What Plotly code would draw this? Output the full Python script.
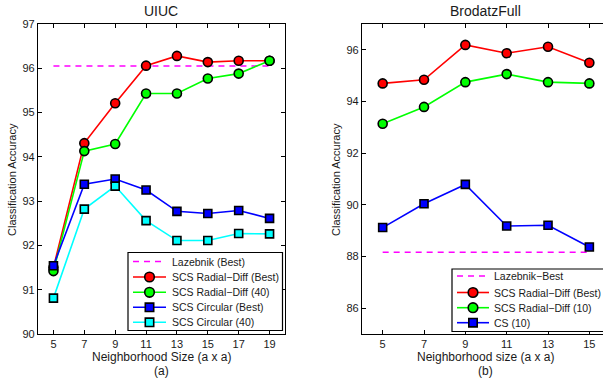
import plotly.graph_objects as go

# ---- Data ----
uiuc_x = [5, 7, 9, 11, 13, 15, 17, 19]
uiuc_lazebnik = 96.05
uiuc_radial_best = [91.50, 94.31, 95.21, 96.06, 96.28, 96.14, 96.17, 96.17]
uiuc_radial_40 = [91.42, 94.13, 94.29, 95.43, 95.43, 95.77, 95.88, 96.17]
uiuc_circ_best = [91.54, 93.38, 93.50, 93.25, 92.77, 92.72, 92.79, 92.61]
uiuc_circ_40 = [90.81, 92.82, 93.34, 92.56, 92.11, 92.11, 92.27, 92.26]

brod_x = [5, 7, 9, 11, 13, 15]
brod_lazebnik = 88.16
brod_radial_best = [94.70, 94.84, 96.19, 95.87, 96.12, 95.50]
brod_radial_10 = [93.14, 93.79, 94.75, 95.06, 94.75, 94.70]
brod_cs_10 = [89.12, 90.04, 90.79, 89.18, 89.21, 88.37]

uiuc_yticks = [90, 91, 92, 93, 94, 95, 96, 97]
brod_yticks = [86, 88, 90, 92, 94, 96]

uiuc_names = ["Lazebnik (Best)", "SCS Radial−Diff (Best)", "SCS Radial−Diff (40)",
              "SCS Circular (Best)", "SCS Circular (40)"]
brod_names = ["Lazebnik−Best", "SCS Radial−Diff (Best)", "SCS Radial−Diff (10)", "CS (10)"]

# ---- Styles ----
W, H = 603, 381
MT, MB = 24, 47
PH = H - MT - MB
FONT = "Liberation Sans, Arial, Helvetica, sans-serif"
TXT = "#1a1a1a"
MAG, RED, GRN, BLU, CYN = "#ff00ff", "#ff0000", "#00ff00", "#0000ff", "#00ffff"

uiuc_styles = [("dash", MAG, None), ("solid", RED, "circle"), ("solid", GRN, "circle"),
               ("solid", BLU, "square"), ("solid", CYN, "square")]
brod_styles = [("dash", MAG, None), ("solid", RED, "circle"), ("solid", GRN, "circle"),
               ("solid", BLU, "square")]

fig = go.Figure()


def marker(sym, color):
    if sym == "circle":
        return dict(symbol="circle", size=9, color=color, line=dict(color="black", width=1.6))
    return dict(symbol="square", size=8, color=color, line=dict(color="black", width=1.6))


def add(x, y, style, name, xa, ya):
    dash, color, sym = style
    if sym is None:
        fig.add_trace(go.Scatter(x=x, y=y, mode="lines", name=name, showlegend=False,
                                 line=dict(color=color, width=1.5, dash="6px,5px"),
                                 xaxis=xa, yaxis=ya))
    else:
        fig.add_trace(go.Scatter(x=x, y=y, mode="lines+markers", name=name, showlegend=False,
                                 line=dict(color=color, width=1.6), marker=marker(sym, color),
                                 xaxis=xa, yaxis=ya))


uiuc_series = [[uiuc_lazebnik] * len(uiuc_x), uiuc_radial_best, uiuc_radial_40,
               uiuc_circ_best, uiuc_circ_40]
for ys, st, nm in zip(uiuc_series, uiuc_styles, uiuc_names):
    add(uiuc_x, ys, st, nm, "x", "y")

brod_series = [[brod_lazebnik] * len(brod_x), brod_radial_best, brod_radial_10, brod_cs_10]
for ys, st, nm in zip(brod_series, brod_styles, brod_names):
    add(brod_x, ys, st, nm, "x2", "y2")

axis_common = dict(showline=True, linecolor="black", linewidth=1.2, mirror="ticks",
                   ticks="inside", ticklen=4, tickcolor="black", tickwidth=1,
                   showgrid=False, zeroline=False,
                   tickfont=dict(family=FONT, size=11, color=TXT))

L0, L1 = 38 / W, 285 / W
R0, R1 = 362 / W, 1.0

fig.update_layout(
    width=W, height=H,
    margin=dict(l=0, r=0, t=MT, b=MB),
    paper_bgcolor="white", plot_bgcolor="white",
    font=dict(family=FONT, size=11, color=TXT),
    showlegend=False,
    xaxis=dict(domain=[L0, L1], range=[4, 20], tickvals=uiuc_x, anchor="y", **axis_common),
    yaxis=dict(domain=[0, 1], range=[90, 97], tickvals=uiuc_yticks, anchor="x", **axis_common),
    xaxis2=dict(domain=[R0, R1], range=[4, 15.66], tickvals=brod_x, anchor="y2", **axis_common),
    yaxis2=dict(domain=[0, 1], range=[85, 97], tickvals=brod_yticks, anchor="x2",
                **{**axis_common, "mirror": False}),
)

# ---- helpers in pixel space -> paper ----
def px(x):
    return x / W


def py(y):
    return (H - MB - y) / PH


annotations = []
shapes = []


def A(text, xp, ypix, size, angle=0, xanchor="center"):
    annotations.append(dict(text=text, x=px(xp), y=py(ypix), xref="paper", yref="paper",
                            showarrow=False, textangle=angle,
                            font=dict(family=FONT, size=size, color=TXT),
                            xanchor=xanchor, yanchor="middle"))


A("UIUC", 161, 11, 14)
A("BrodatzFull", 485, 11, 14)
A("Neighborhood Size (a x a)", 161, 357, 12)
A("(a)", 161, 371, 12)
A("Neighborhood size (a x a)", 485, 357, 12)
A("(b)", 485, 371, 12)
A("Classification Accuracy", 12, 180, 11, -90)
A("Classification Accuracy", 336, 180, 11, -90)


def legend_box(x0, y0, x1, y1, rows, names, styles, lx0, lx1, tx):
    shapes.append(dict(type="rect", xref="paper", yref="paper", x0=px(x0), x1=px(x1),
                       y0=py(y1), y1=py(y0), line=dict(color="black", width=1.2),
                       fillcolor="white", layer="above"))
    for ry, nm, (dash, color, sym) in zip(rows, names, styles):
        shapes.append(dict(type="line", xref="paper", yref="paper", x0=px(lx0), x1=px(lx1),
                           y0=py(ry), y1=py(ry), layer="above",
                           line=dict(color=color, width=1.6 if sym else 1.5,
                                     dash="6px,5px" if sym is None else "solid")))
        cx = (lx0 + lx1) / 2
        if sym == "circle":
            r = 4.8
            shapes.append(dict(type="circle", xref="paper", yref="paper", layer="above",
                               x0=px(cx - r), x1=px(cx + r), y0=py(ry + r), y1=py(ry - r),
                               fillcolor=color, line=dict(color="black", width=1.6)))
        elif sym == "square":
            r = 4.2
            shapes.append(dict(type="rect", xref="paper", yref="paper", layer="above",
                               x0=px(cx - r), x1=px(cx + r), y0=py(ry + r), y1=py(ry - r),
                               fillcolor=color, line=dict(color="black", width=1.6)))
        A(nm, tx, ry, 10.5, xanchor="left")


legend_box(128, 252.5, 282.5, 330.5, [261.5, 277, 292.3, 307.3, 322.3],
           uiuc_names, uiuc_styles, 133, 166, 170)
legend_box(452, 269, 640, 331.5, [276, 292.5, 307.7, 322.7],
           brod_names, brod_styles, 457, 489, 492)

fig.update_layout(annotations=annotations, shapes=shapes)

fig.write_html("out.html")
